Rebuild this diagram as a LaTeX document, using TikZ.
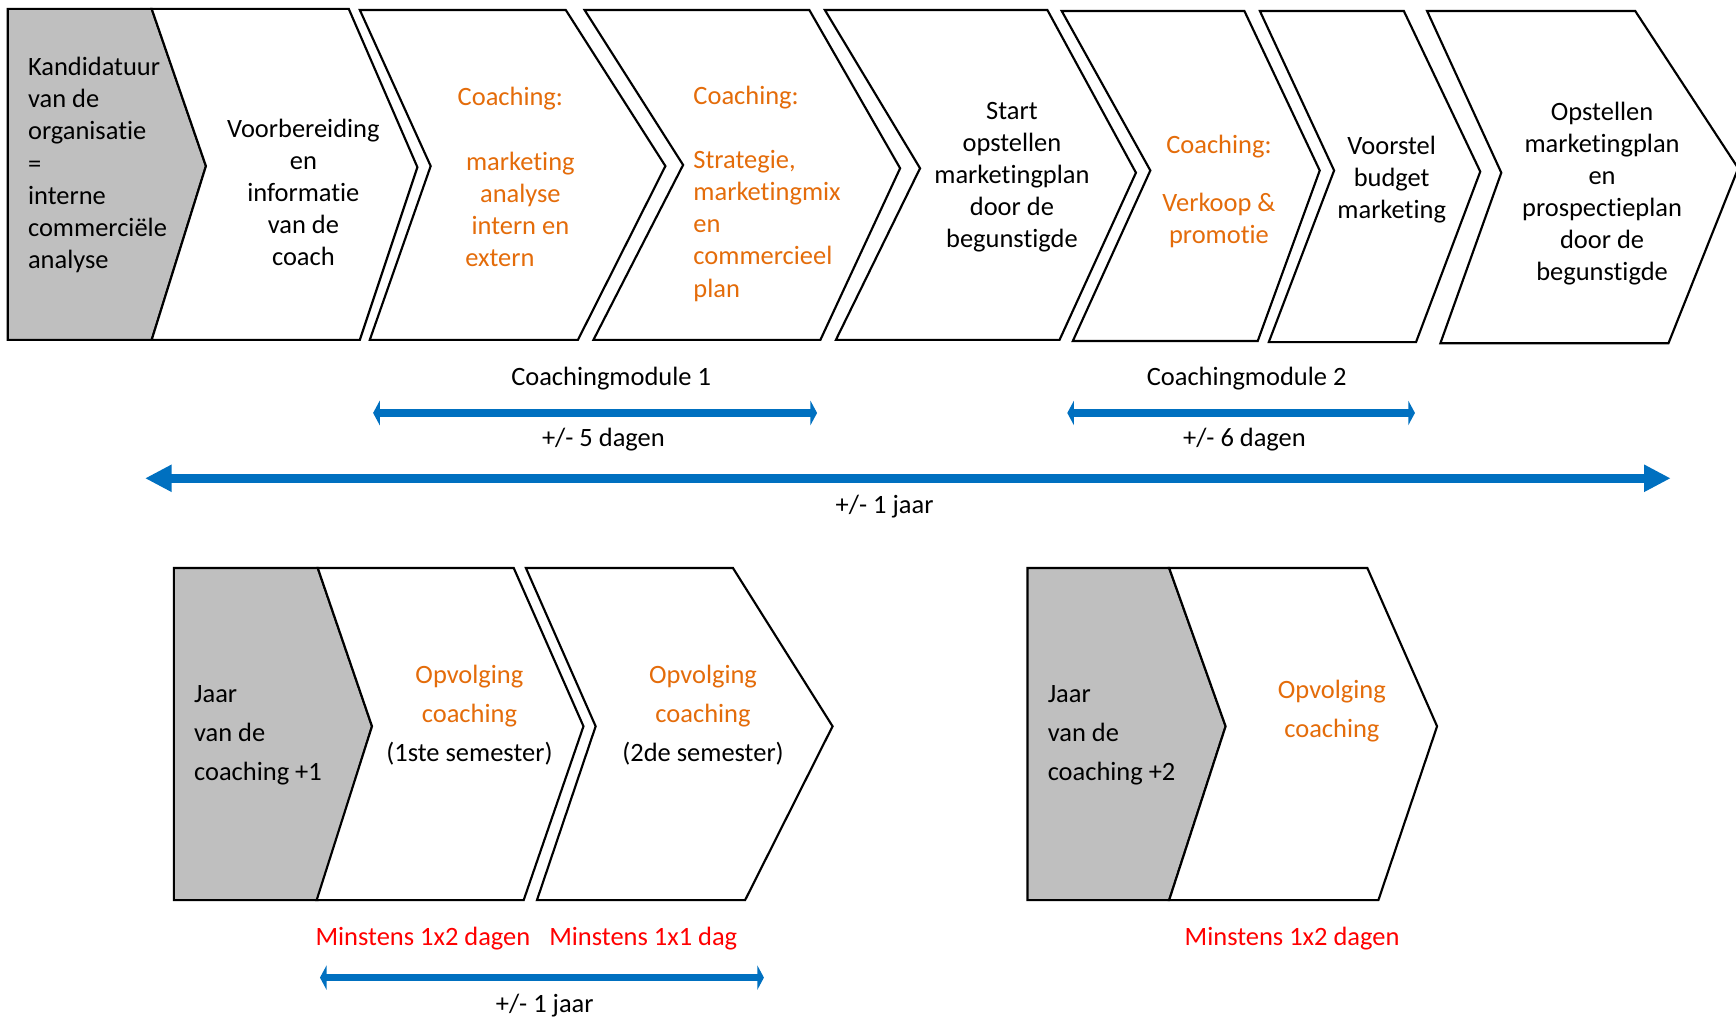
\documentclass[tikz,border=0pt]{standalone}
\usepackage{fontspec}
\setmainfont{Carlito}[Ligatures=NoCommon]
\usetikzlibrary{arrows.meta}
\definecolor{G0}{HTML}{BFBFBF}
\definecolor{O0}{HTML}{E46C0A}
\definecolor{B0}{HTML}{0070C0}
\definecolor{R0}{HTML}{FF0000}
\tikzset{%
chev/.style={draw, line width=1.1pt, fill=white, line join=miter},%
grey/.style={chev, fill=G0},%
txt/.style={inner sep=0pt, align=center, font=\fontsize{13.6}{16.5}\selectfont},%
txtl/.style={txt, align=left, anchor=west},%
txtb/.style={txt, font=\fontsize{13.6}{19.9}\selectfont},%
oran/.style={text=O0},%
rtxt/.style={txt, text=R0},%
span/.style={draw=B0, line width=0.13cm, <->, >={Triangle[width=0.44cm, length=0.12cm]}},%
bigspan/.style={draw=B0, line width=0.17cm, <->, >={Triangle[width=0.46cm, length=0.48cm]}}%
}

\begin{document}
\begin{tikzpicture}[x=0.02cm, y=-0.02cm]%
\useasboundingbox (0,0) rectangle (1568,918);%
\draw[grey] (7,8) -- (137,8) -- (186,150) -- (137,307) -- (7,307) -- cycle;%
\draw[chev] (137,8) -- (315,8) -- (377,151) -- (325,307) -- (137,307) -- (186,150) -- cycle;%
\draw[chev] (325,9) -- (511,9) -- (601,150) -- (522,307) -- (334,307) -- (389,150) -- cycle;%
\draw[chev] (528,9) -- (731,9) -- (813,152) -- (741,307) -- (536,307) -- (617,149) -- cycle;%
\draw[chev] (745,9) -- (946,9) -- (1026,156) -- (957,307) -- (755,307) -- (831,152) -- cycle;%
\draw[chev] (959,10) -- (1124,10) -- (1192,154) -- (1136,308) -- (969,308) -- (1039,154) -- cycle;%
\draw[chev] (1138,10) -- (1268,10) -- (1337,155) -- (1279,309) -- (1146,309) -- (1205,154) -- cycle;%
\draw[chev] (1289,10) -- (1477,10) -- (1570,152) -- (1507,310) -- (1301,310) -- (1356,156) -- cycle;%
\node[txtl] (t0) at (25,149) {Kandidatuur\\van de\\organisatie\\=\\interne\\commerciële\\analyse};%
\node[txt] (t1) at (274,174) {Voorbereiding\\en\\informatie\\van de\\coach};%
\node[txt, oran] (t2) at (470,160) {Coaching:\hspace*{0.36cm}\\[16.5pt]marketing\\analyse\\intern en\\extern\hspace*{0.74cm}};%
\node[txtl, oran] (t3) at (626,175) {Coaching:\\[16.5pt]Strategie,\\marketingmix\\en\\commercieel\\plan};%
\node[txt] (t4) at (914,160) {Start\\opstellen\\marketingplan\\door de\\begunstigde};%
\node[txt, oran] (t5) at (1101,173) {Coaching:\\[13pt]Verkoop \&\\promotie};%
\node[txt] (t6) at (1257,162) {Voorstel\\budget\\marketing};%
\node[txt] (t7) at (1447,175) {Opstellen\\marketingplan\\en\\prospectieplan\\door de\\begunstigde};%
\node[txt] (l1) at (552,342) {Coachingmodule 1};%
\node[txt] (l2) at (545,397) {+/- 5 dagen};%
\node[txt] (l3) at (1126,342) {Coachingmodule 2};%
\node[txt] (l4) at (1124,397) {+/- 6 dagen};%
\node[txt] (l5) at (799,458) {+/- 1 jaar};%
\coordinate (m1a) at (337,373);%
\coordinate (m1b) at (738,373);%
\coordinate (m2a) at (964,373);%
\coordinate (m2b) at (1278,373);%
\coordinate (ja) at (131,432);%
\coordinate (jb) at (1509,432);%
\draw[span] (m1a) -- (m1b);%
\draw[span] (m2a) -- (m2b);%
\draw[bigspan] (ja) -- (jb);%
\draw[grey] (157,513) -- (287,513) -- (336,656) -- (287,813) -- (157,813) -- cycle;%
\draw[chev] (287,513) -- (464,513) -- (527,656) -- (473,813) -- (286,813) -- (336,656) -- cycle;%
\draw[chev] (475,513) -- (662,513) -- (752,656) -- (673,813) -- (485,813) -- (538,656) -- cycle;%
\draw[grey] (928,513) -- (1056,513) -- (1107,656) -- (1056,813) -- (928,813) -- cycle;%
\draw[chev] (1056,513) -- (1235,513) -- (1298,656) -- (1245,813) -- (1056,813) -- (1107,656) -- cycle;%
\node[txtb, align=left, anchor=west] (t8) at (175,664) {Jaar\\van de\\coaching +1};%
\node[txtb] (t9) at (424,646) {\textcolor{O0}{Opvolging}\\\textcolor{O0}{coaching}\\(1ste semester)};%
\node[txtb] (t10) at (635,646) {\textcolor{O0}{Opvolging}\\\textcolor{O0}{coaching}\\(2de semester)};%
\node[txtb, align=left, anchor=west] (t11) at (946,664) {Jaar\\van de\\coaching +2};%
\node[txtb, oran] (t12) at (1203,642) {Opvolging\\coaching};%
\node[rtxt] (r1) at (382,848) {Minstens 1x2 dagen};%
\node[rtxt] (r2) at (581,848) {Minstens 1x1 dag};%
\node[rtxt] (r3) at (1167,848) {Minstens 1x2 dagen};%
\node[txt] (l6) at (492,908) {+/- 1 jaar};%
\coordinate (oa) at (289,883);%
\coordinate (ob) at (690,883);%
\draw[span] (oa) -- (ob);%
\end{tikzpicture}
\end{document}
